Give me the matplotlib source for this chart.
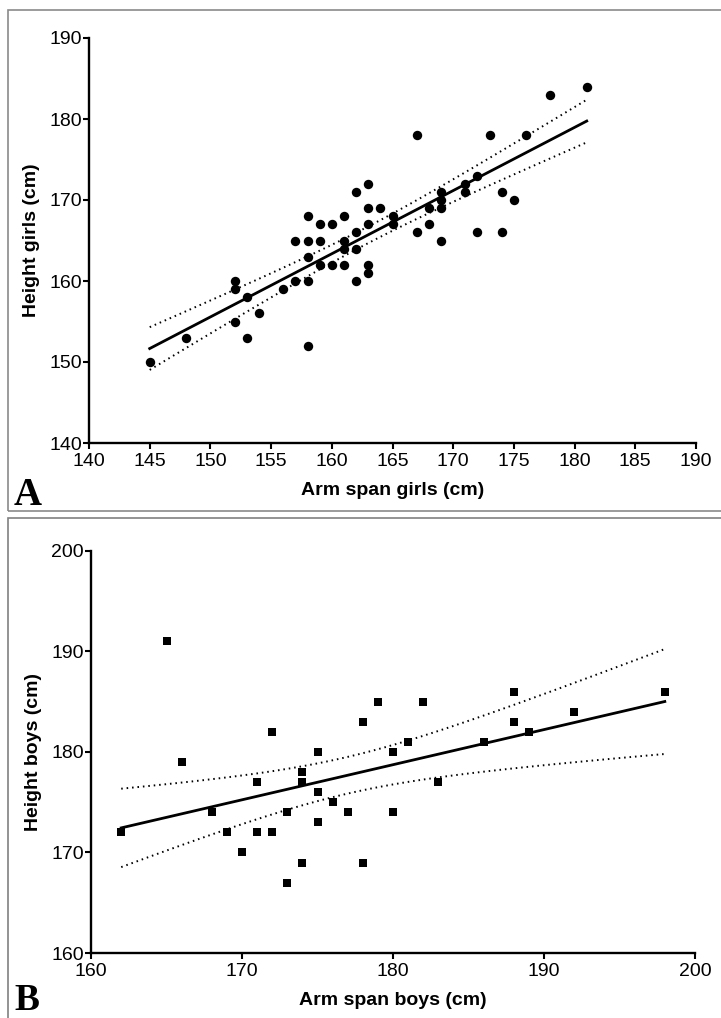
import matplotlib
matplotlib.use("Agg")
import matplotlib.pyplot as plt
from matplotlib.patches import Rectangle
import numpy as np

plt.rcParams['font.family'] = ['Liberation Sans', 'DejaVu Sans']

# girls: arm span vs height (cm)
girls_span = [145, 148, 152, 152, 152, 153, 153, 154, 156, 157, 157,
              158, 158, 158, 158, 158, 159, 159, 159, 160, 160,
              161, 161, 161, 161, 162, 162, 162, 162,
              163, 163, 163, 163, 163, 164, 165, 165, 167, 167,
              168, 168, 169, 169, 169, 169, 171, 171, 172, 172,
              173, 174, 174, 175, 176, 178, 181]
girls_height = [150, 153, 160, 159, 155, 158, 153, 156, 159, 165, 160,
                168, 165, 163, 160, 152, 167, 165, 162, 167, 162,
                168, 165, 164, 162, 171, 166, 164, 160,
                172, 169, 167, 162, 161, 169, 168, 167, 178, 166,
                169, 167, 171, 170, 169, 165, 172, 171, 173, 166,
                178, 171, 166, 170, 178, 183, 184]

# boys
boys_span = [162, 165, 166, 168, 169, 170, 171, 171, 172, 172, 173, 173,
             174, 174, 174, 175, 175, 175, 176, 177, 178, 178, 179,
             180, 180, 181, 182, 183, 186, 188, 188, 189, 192, 198]
boys_height = [172, 191, 179, 174, 172, 170, 177, 172, 182, 172, 174, 167,
               178, 177, 169, 180, 176, 173, 175, 174, 183, 169, 185,
               180, 174, 181, 185, 177, 181, 186, 183, 182, 184, 186]

girls_xticks = list(range(140, 191, 5))
girls_yticks = list(range(140, 191, 10))
boys_xticks = list(range(160, 201, 10))
boys_yticks = list(range(160, 201, 10))


def fit_with_ci(x, y, t_crit):
    x = np.asarray(x, float)
    y = np.asarray(y, float)
    n = len(x)
    b, a = np.polyfit(x, y, 1)
    resid = y - (a + b * x)
    s = np.sqrt(np.sum(resid ** 2) / (n - 2))
    xs = np.linspace(x.min(), x.max(), 100)
    ys = a + b * xs
    se = s * np.sqrt(1.0 / n + (xs - x.mean()) ** 2 / np.sum((x - x.mean()) ** 2))
    return xs, ys, ys - t_crit * se, ys + t_crit * se


def draw_panel(ax, x, y, marker, msize, t_crit, xticks, yticks, xlab, ylab):
    xs, ys, lo, hi = fit_with_ci(x, y, t_crit)
    ax.plot(xs, ys, color='black', lw=2.0, zorder=2)
    ax.plot(xs, lo, color='black', lw=1.4, linestyle=(0, (0.8, 2.0)), zorder=2)
    ax.plot(xs, hi, color='black', lw=1.4, linestyle=(0, (0.8, 2.0)), zorder=2)
    ax.scatter(x, y, marker=marker, s=msize, color='black', linewidths=0, zorder=3)
    ax.set_xlim(xticks[0], xticks[-1])
    ax.set_ylim(yticks[0], yticks[-1])
    ax.set_xticks(xticks)
    ax.set_yticks(yticks)
    for side in ['top', 'right']:
        ax.spines[side].set_visible(False)
    for side in ['left', 'bottom']:
        ax.spines[side].set_linewidth(1.7)
    ax.tick_params(width=1.5, length=4, labelsize=14)
    ax.tick_params(axis='x', pad=3)
    ax.tick_params(axis='y', pad=1)
    ax.set_xlabel(xlab, fontsize=14, fontweight='bold', labelpad=9)
    ax.set_ylabel(ylab, fontsize=14, fontweight='bold', labelpad=7)
    ax.patch.set_alpha(0)


fig = plt.figure(figsize=(7.21, 10.18), dpi=100)
W, H = 721.0, 1018.0

# panel frames
fig.patches.append(Rectangle((8 / W, 1 - 511 / H), 720 / W, 501 / H, transform=fig.transFigure,
                             fill=False, edgecolor='#8a8a8a', lw=1.2))
fig.patches.append(Rectangle((8 / W, 1 - 1030 / H), 720 / W, 512 / H, transform=fig.transFigure,
                             fill=False, edgecolor='#808080', lw=1.2))

axA = fig.add_axes([89 / W, 1 - 443 / H, 607 / W, 405 / H])
draw_panel(axA, girls_span, girls_height, 'o', 46, 2.005, girls_xticks, girls_yticks,
           'Arm span girls (cm)', 'Height girls (cm)')

axB = fig.add_axes([91 / W, 1 - 953 / H, 604 / W, 402 / H])
draw_panel(axB, boys_span, boys_height, 's', 40, 2.037, boys_xticks, boys_yticks,
           'Arm span boys (cm)', 'Height boys (cm)')

fig.text(14 / W, 1 - 505 / H, 'A', fontsize=28, fontweight='bold',
         family=['Liberation Serif', 'DejaVu Serif'], ha='left', va='baseline')
fig.text(14 / W, 1 - 1010 / H, 'B', fontsize=27, fontweight='bold',
         family=['Liberation Serif', 'DejaVu Serif'], ha='left', va='baseline')

fig.savefig('out.png', dpi=100)
